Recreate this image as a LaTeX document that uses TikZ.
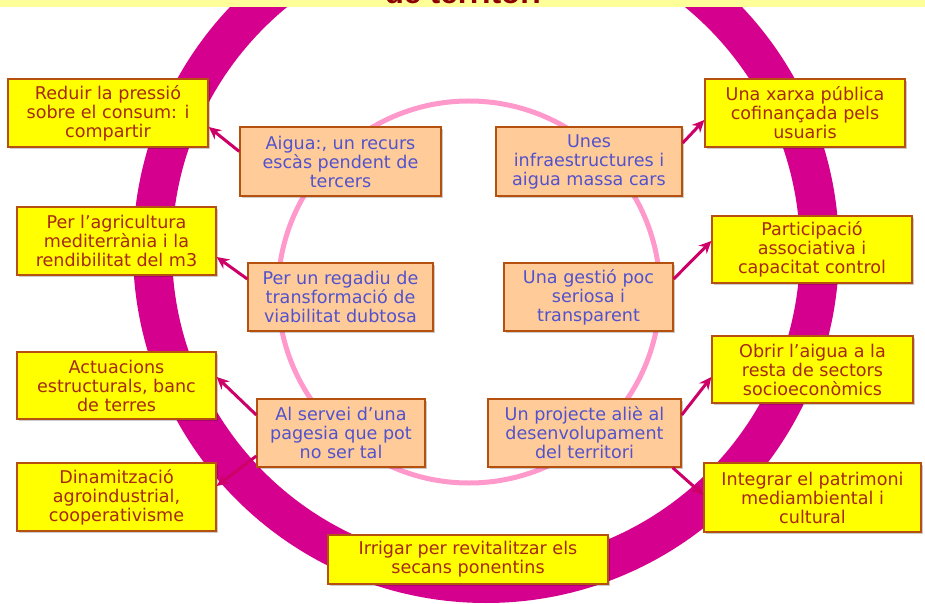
\documentclass[tikz,border=0pt]{standalone}
\usepackage{fontspec}
\setmainfont{DejaVu Sans}
\newfontfamily\titolfont{Liberation Sans}
\usetikzlibrary{arrows.meta, calc, shadows}

\definecolor{anell}{HTML}{D6008F}
\definecolor{anellrosa}{HTML}{FF99CC}
\definecolor{franja}{HTML}{FFFF99}
\definecolor{titolcol}{HTML}{8C0000}
\definecolor{vora}{HTML}{B5500F}
\definecolor{groc}{HTML}{FFFF00}
\definecolor{textgroc}{HTML}{A52A10}
\definecolor{taronja}{HTML}{FFCC99}
\definecolor{textblau}{HTML}{5252CC}
\definecolor{fletxa}{HTML}{CC0066}

\begin{document}
\begin{tikzpicture}[x=0.02cm, y=-0.02cm, >={Stealth[length=7pt,width=6.5pt]},
  every node/.style={font=\fontsize{10}{10.8}\selectfont, align=center, inner sep=0pt},
  objectiu/.style={draw=vora, line width=0.8pt, fill=groc, text=textgroc, minimum height=1.36cm,
    drop shadow={shadow xshift=1pt, shadow yshift=-1pt, opacity=0.2, fill=black}},
  problema/.style={draw=vora, line width=0.8pt, fill=taronja, text=textblau, minimum height=1.36cm,
    drop shadow={shadow xshift=1pt, shadow yshift=-1pt, opacity=0.2, fill=black}},
  enllac/.style={->, draw=fletxa, line width=1.7pt}]
    \useasboundingbox (0,0) rectangle (925,604);
    \clip (0,0) rectangle (925,604);

    % anells
    \draw[anell, line width=0.78cm] (486,250) circle[radius=333.5];
    \draw[anellrosa, line width=0.1cm] (469,292) circle[radius=191];

    % franja del titol
    \fill[franja] (0,0) rectangle (925,7);
    \begin{scope}
        \clip (0,0) rectangle (925,7);
        \node[anchor=base, text=titolcol, font=\titolfont\bfseries\fontsize{17.8}{20}\selectfont] (titol) at (463,3.6) {de territori};
    \end{scope}

    % objectius
    \node[objectiu, minimum width=4cm] (reduir) at (108,113) {Reduir la pressió\\sobre el consum: i\\compartir};
    \node[objectiu, minimum width=3.98cm] (agricultura) at (116.5,241) {Per l’agricultura\\mediterrània i la\\rendibilitat del m3};
    \node[objectiu, minimum width=3.98cm, minimum height=1.34cm] (actuacions) at (116.5,385.5) {Actuacions\\estructurals, banc\\de terres};
    \node[objectiu, minimum width=3.98cm] (dinamitzacio) at (116.5,497) {Dinamització\\agroindustrial,\\cooperativisme};
    \node[objectiu, minimum width=5.6cm, minimum height=0.98cm] (irrigar) at (468,559.5) {Irrigar per revitalitzar els\\secans ponentins};
    \node[objectiu, minimum width=4cm] (xarxa) at (805,113) {Una xarxa pública\\cofinançada pels\\usuaris};
    \node[objectiu, minimum width=4cm, minimum height=1.34cm] (participacio) at (812,249.5) {Participació\\associativa i\\capacitat control};
    \node[objectiu, minimum width=4.02cm, minimum height=1.34cm] (obrir) at (812.5,369.5) {Obrir l’aigua a la\\resta de sectors\\socioeconòmics};
    \node[objectiu, minimum width=4.34cm, minimum height=1.38cm] (integrar) at (812.5,497.5) {Integrar el patrimoni\\mediambiental i\\cultural};

    % problemes
    \node[problema, minimum width=4.02cm, minimum height=1.38cm] (aigua) at (340.5,161.5) {Aigua:, un recurs\\escàs pendent de\\tercers};
    \node[problema, minimum width=3.72cm, minimum height=1.38cm] (infraestructures) at (589,161.5) {Unes\\infraestructures i\\aigua massa cars};
    \node[problema, minimum width=3.7cm] (regadiu) at (340.5,297) {Per un regadiu de\\transformació de\\viabilitat dubtosa};
    \node[problema, minimum width=3.38cm] (gestio) at (588.5,297) {Una gestió poc\\seriosa i\\transparent};
    \node[problema, minimum width=3.36cm] (servei) at (341,433) {Al servei d’una\\pagesia que pot\\no ser tal};
    \node[problema, minimum width=3.86cm] (projecte) at (584.5,433) {Un projecte aliè al\\desenvolupament\\del territori};

    % fletxes
    \draw[enllac] ($(aigua.west)+(0,-10)$) -- ($(reduir.east)+(0,14)$);
    \draw[enllac] ($(regadiu.west)+(0,-18)$) -- ($(agricultura.east)+(0,16)$);
    \draw[enllac] ($(servei.west)+(0,-18)$) -- ($(actuacions.east)+(0,-8.5)$);
    \draw[enllac] ($(servei.west)+(0,23)$) -- ($(dinamitzacio.east)+(0,-11)$);
    \draw[enllac] ($(infraestructures.east)+(0,-18.5)$) -- ($(xarxa.west)+(0,7)$);
    \draw[enllac] ($(gestio.east)+(0,-18)$) -- ($(participacio.west)+(0,-8.5)$);
    \draw[enllac] ($(projecte.east)+(0,-18)$) -- ($(obrir.west)+(0,7.5)$);
    \draw[enllac] ($(projecte.south east)+(-9,0)$) -- ($(integrar.west)+(0,-2.5)$);
\end{tikzpicture}
\end{document}
